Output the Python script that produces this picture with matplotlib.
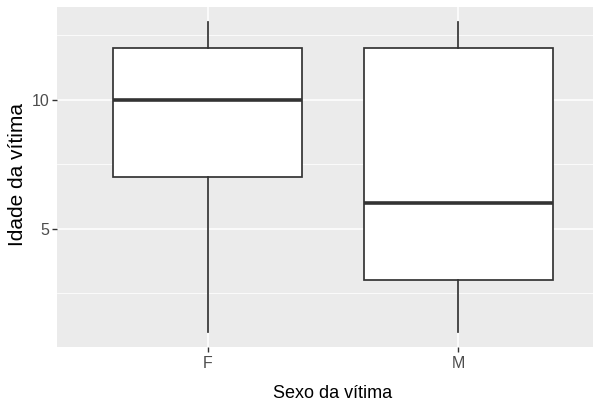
import matplotlib
matplotlib.use("Agg")
import matplotlib.pyplot as plt
from matplotlib.ticker import FixedLocator

categories = ["F", "M"]
whisker_low = [1, 1]
q1 = [7, 3]
median = [10, 6]
q3 = [12, 12]
whisker_high = [13, 13]
y_ticks = [5, 10]
y_minor = [2.5, 7.5, 12.5]

fam = ["Liberation Sans", "DejaVu Sans"]

W, H = 593, 403
fig = plt.figure(figsize=(W / 100, H / 100), dpi=100)
ax = fig.add_axes([57 / W, 56 / H, 552 / W, 340 / H])
ax.set_facecolor("#EBEBEB")
for s in ax.spines.values():
    s.set_visible(False)

positions = list(range(1, len(categories) + 1))
stats = []
for i, c in enumerate(categories):
    stats.append(dict(label=c, whislo=whisker_low[i], q1=q1[i], med=median[i],
                      q3=q3[i], whishi=whisker_high[i], fliers=[]))

ax.bxp(stats, positions=positions, widths=0.75, patch_artist=True, showcaps=False,
       boxprops=dict(facecolor="white", edgecolor="#333333", linewidth=1.25),
       whiskerprops=dict(color="#333333", linewidth=1.25),
       medianprops=dict(color="#333333", linewidth=2.6, solid_capstyle="butt"),
       zorder=3)

ax.set_xlim(0.4, 2.6)
ax.set_ylim(0.4, 13.6)
ax.set_xticks(positions)
ax.set_xticklabels(categories)
ax.yaxis.set_major_locator(FixedLocator(y_ticks))
ax.yaxis.set_minor_locator(FixedLocator(y_minor))
ax.grid(which="major", color="white", linewidth=1.1, zorder=0)
ax.grid(which="minor", axis="y", color="white", linewidth=0.55, zorder=0)
ax.set_axisbelow(True)

ax.tick_params(which="major", length=3.5, width=1.0, color="#333333", pad=2,
               labelcolor="#4D4D4D", labelsize=11.5)
ax.tick_params(axis="x", which="major", pad=3)
ax.tick_params(which="minor", length=0)
for lab in ax.get_xticklabels() + ax.get_yticklabels():
    lab.set_family(fam)

fig.text(333 / W, (H - 398) / H, "Sexo da vítima", fontsize=13, family=fam,
         color="black", ha="center", va="baseline")
fig.text(23.5 / W, (H - 175) / H, "Idade da vítima", fontsize=15, family=fam,
         color="black", ha="center", va="baseline", rotation=90,
         rotation_mode="anchor")

fig.savefig("out.png", dpi=100, facecolor="white")
